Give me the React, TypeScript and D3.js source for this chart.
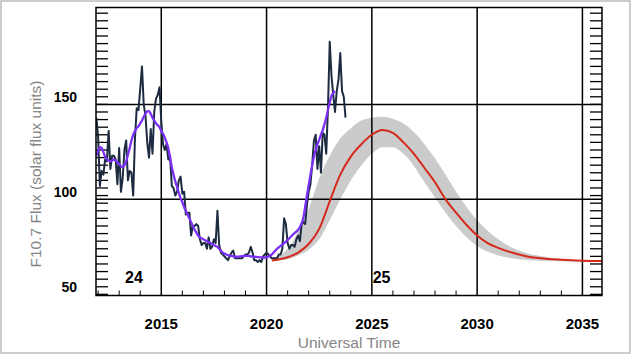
import React from 'react';
import * as d3 from 'd3';

const W = 632;
const H = 355;

// Monthly observed F10.7, Dec 2011 .. Oct 2023
const obsStart = 2011 + 11 / 12;
const observed = [
  143,
  133, 107, 115, 113, 121, 120, 136, 116, 123, 123, 121, 108,
  127, 104, 111, 126, 131, 110, 115, 114, 102, 132, 148, 147,
  158, 170, 150, 144, 130, 122, 137, 124, 146, 153, 155, 159,
  141, 129, 126, 129, 121, 123, 107, 106, 102, 104, 110, 112,
  103, 104, 92, 93, 93, 81, 86, 86, 87, 86, 79, 76,
  77, 77, 74, 80, 74, 75, 79, 77, 94, 76, 72, 71,
  70, 69, 68, 70, 72, 73, 69, 69, 69, 69, 69, 70,
  71, 71, 72, 75, 72, 68, 68, 67, 68, 67, 70, 71,
  72, 71, 70, 69, 69, 69, 69, 71, 71, 74, 90, 87,
  77, 74, 76, 76, 75, 79, 81, 78, 87, 88, 87, 97,
  104, 108, 118, 131, 134, 116, 128, 114, 135, 134, 124, 148,
  183, 165, 155, 146, 157, 163, 177, 157, 154, 143,
];

// 13-month smoothed F10.7, Dec 2011 .. Apr 2023
const smoothed = [
  123,
  125.5, 127.5, 127, 125, 122.5, 121, 120.5, 120, 120.5, 121, 120.5, 119.5,
  118.5, 117.5, 117, 118, 120, 123.5, 127, 131, 134, 136, 137.5, 138.5,
  140, 141.5, 143.5, 145, 146.3, 146.5, 145, 143, 141.5, 140, 139, 138,
  136, 134.5, 132.5, 130, 127, 122, 117, 113, 109.5, 106.5, 103.5, 100.5,
  98.5, 96, 94, 92, 90, 88, 86, 84, 82.5, 81, 80, 79.5,
  79, 78.5, 78, 77.5, 77, 76.5, 76, 75.5, 75, 74, 73, 72,
  71.5, 71, 70.7, 70.5, 70.3, 70, 69.8, 69.8, 69.9, 70, 70.1, 70.2,
  70.3, 70.3, 70.2, 70, 69.9, 69.8, 69.7, 69.6, 69.5, 69.5, 69.4, 69.4,
  69.5, 69.8, 70.3, 71, 72, 73, 74, 74.8, 75.5, 76.2, 77, 77.8,
  78.6, 79.5, 80.5, 81.5, 82.3, 83, 84, 85.5, 87.5, 90.5, 96, 102,
  107.5, 113, 118, 122.5, 126, 129, 131.5, 134, 136.5, 139.5, 143, 147,
  151, 154.5, 156, 157,
];

// Prediction for cycle 25
const predYears = [
  2020.25, 2020.5, 2021, 2021.5, 2022, 2022.5, 2023, 2023.5, 2024, 2024.5,
  2025, 2025.5, 2026, 2026.5, 2027, 2027.5, 2028, 2028.5, 2029, 2029.5,
  2030, 2030.5, 2031, 2031.5, 2032, 2032.5, 2033, 2034, 2035, 2036,
];
const predicted = [
  67.8, 68.2, 69.5, 72, 76.5, 84.5, 99, 113, 122.5, 129,
  134, 136.5, 135, 130, 124, 116.5, 109, 100, 93, 86.5,
  81, 77, 74.5, 72.5, 71, 69.7, 69, 68.2, 67.7, 67.5,
];
const predLower = [
  67.6, 67.8, 68.5, 70.5, 73.5, 79, 89, 100, 110, 118,
  124, 127.5, 127.5, 124, 117.5, 109, 101, 93, 86, 80,
  75.5, 72.5, 70.5, 69.3, 68.5, 68, 67.7, 67.4, 67.2, 67.1,
];
const predUpper = [
  68, 69.5, 74, 83, 95, 111, 123, 132, 137.5, 141.5,
  143, 143.5, 142.5, 140, 135.5, 129, 121.5, 113, 104, 96,
  89, 83.5, 79, 75.5, 73, 71.3, 70.2, 68.6, 67.9, 67.6,
];

const xGridYears = [2015, 2020, 2025, 2030, 2035];
const yGridValues = [100, 150];
const yLabelValues = [50, 100, 150];
const cycleLabels = ['24', '25'];
const cycleLabelYears = [2013.28, 2025.04];

export default function App() {
  const left = 96, right = 602, top = 7.5, bottom = 295.5;
  const x = d3.scaleLinear().domain([2011.9, 2035.93]).range([left, right]);
  const y = d3.scaleLinear().domain([49.4, 201]).range([bottom, top]);

  const obsPts = observed.map((v, i) => [obsStart + i / 12, v] as [number, number]);
  const smPts = smoothed.map((v, i) => [obsStart + i / 12, v] as [number, number]);
  const predPts = predicted.map((v, i) => [predYears[i], v] as [number, number]);

  const line = d3.line<[number, number]>().x(d => x(d[0])).y(d => y(d[1]));
  const smoothLine = d3.line<[number, number]>().x(d => x(d[0])).y(d => y(d[1])).curve(d3.curveMonotoneX);
  const area = d3.area<number>()
    .x((_, i) => x(predYears[i]))
    .y0((_, i) => y(predLower[i]))
    .y1((_, i) => y(predUpper[i]))
    .curve(d3.curveMonotoneX);

  const minorY = d3.range(50, 201, 4);
  const minorX = d3.range(2012, 2036).filter(yr => !xGridYears.includes(yr));

  const font = '"Liberation Sans", Arial, sans-serif';

  return (
    <svg width={W} height={H} style={{ position: 'absolute', left: 0, top: 0, background: '#fff' }}>
      <rect x={1} y={1} width={629} height={352} fill="#fff" stroke="#bdbdbd" strokeWidth={1.5} />
      <defs>
        <clipPath id="plotClip">
          <rect x={left} y={top} width={right - left} height={bottom - top} />
        </clipPath>
      </defs>
      <g clipPath="url(#plotClip)">
        <path d={area(predYears.map((_, i) => i)) || ''} fill="#cbcbcb" />
      </g>
      {xGridYears.map(yr => (
        <line key={'gx' + yr} x1={x(yr)} x2={x(yr)} y1={top} y2={bottom} stroke="#000" strokeWidth={1.5} />
      ))}
      {yGridValues.map(v => (
        <line key={'gy' + v} x1={left} x2={right} y1={y(v)} y2={y(v)} stroke="#000" strokeWidth={1.5} />
      ))}
      {minorY.map(v => (
        <g key={'my' + v}>
          <line x1={left} x2={left + 12} y1={y(v)} y2={y(v)} stroke="#000" strokeWidth={1.3} />
          <line x1={right - 12} x2={right} y1={y(v)} y2={y(v)} stroke="#000" strokeWidth={1.3} />
        </g>
      ))}
      {minorX.map(yr => (
        <line key={'mx' + yr} x1={x(yr)} x2={x(yr)} y1={bottom} y2={bottom - 5} stroke="#000" strokeWidth={1} />
      ))}
      <g clipPath="url(#plotClip)">
        <path d={line(obsPts) || ''} fill="none" stroke="#1c2b40" strokeWidth={2} strokeLinejoin="round" />
        <path d={smoothLine(smPts) || ''} fill="none" stroke="#7b2ff7" strokeWidth={2.3} />
        <path d={smoothLine(predPts) || ''} fill="none" stroke="#d42a1c" strokeWidth={2} />
      </g>
      <rect x={left} y={top} width={right - left} height={bottom - top} fill="none" stroke="#000" strokeWidth={1.5} />
      {yLabelValues.map(v => (
        <text key={'yl' + v} x={77} y={y(v) - 2.5} textAnchor="end" fontFamily={font} fontWeight="bold" fontSize={14} fill="#000">{v}</text>
      ))}
      {xGridYears.map(yr => (
        <text key={'xl' + yr} x={x(yr)} y={329} textAnchor="middle" fontFamily={font} fontWeight="bold" fontSize={15} fill="#000">{yr}</text>
      ))}
      {cycleLabels.map((c, i) => (
        <text key={'c' + c} x={x(cycleLabelYears[i])} y={y(56)} fontFamily={font} fontWeight="bold" fontSize={16} fill="#000">{c}</text>
      ))}
      <text x={(left + right) / 2} y={348} textAnchor="middle" fontFamily={font} fontSize={15.5} fill="#858585">Universal Time</text>
      <text transform={`translate(40.5, 174) rotate(-90)`} textAnchor="middle" fontFamily={font} fontSize={15.5} fill="#858585">F10.7 Flux (solar flux units)</text>
    </svg>
  );
}
